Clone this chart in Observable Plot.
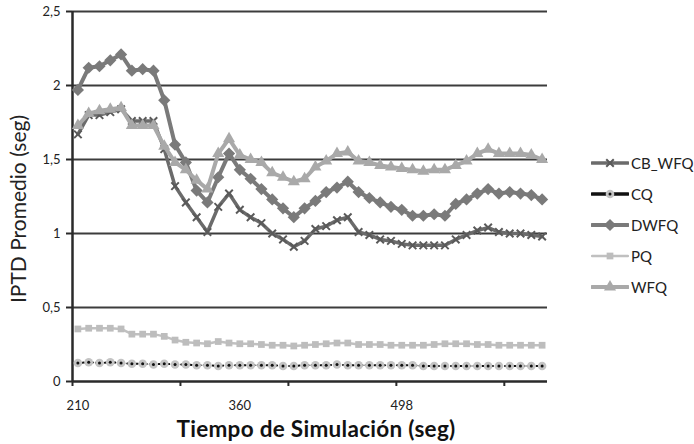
<!DOCTYPE html>
<html><head><meta charset="utf-8">
<script src="https://cdn.jsdelivr.net/npm/d3@7"></script>
<script src="https://cdn.jsdelivr.net/npm/@observablehq/plot@0.6"></script>
<style>
html,body{margin:0;padding:0;background:#fff;}
#wrap{position:relative;width:694px;height:444px;font-family:Lato,sans-serif;overflow:hidden;background:#fff}
#wrap svg.plot{position:absolute;left:0;top:0}
.ytitle{position:absolute;left:17px;top:209px;transform:translate(-50%,-50%) rotate(-90deg);font-size:21px;color:#222;white-space:nowrap}
.xtitle{position:absolute;left:316px;top:428px;transform:translate(-50%,-50%);font-size:22.5px;letter-spacing:0.3px;font-weight:bold;color:#111;white-space:nowrap}
.legend{position:absolute;left:591px;top:147px}
.legend .row{height:31px;display:flex;align-items:center;font-size:15px;color:#222}
.legend svg{display:block;margin-right:2px}
</style></head><body><div id="wrap"></div>
<script>
// Category tick labels (x is the category index)
const xLabelIdx = [0, 15, 30];
const xLabels = ["210", "360", "498"];
const yTicks = [0, 0.5, 1, 1.5, 2, 2.5];
const seriesNames = ["CB_WFQ", "CQ", "DWFQ", "PQ", "WFQ"];

const CB_WFQ = [1.67,1.80,1.80,1.82,1.84,1.76,1.76,1.76,1.57,1.32,
                1.21,1.11,1.01,1.18,1.27,1.16,1.11,1.07,1.00,0.96,
                0.91,0.95,1.03,1.05,1.09,1.11,1.01,0.99,0.96,0.95,
                0.93,0.92,0.92,0.92,0.92,0.96,0.99,1.02,1.04,1.01,
                1.00,1.00,0.99,0.98];
const CQ = [0.125,0.13,0.125,0.13,0.125,0.12,0.12,0.115,0.12,0.115,
            0.115,0.11,0.11,0.105,0.11,0.11,0.11,0.11,0.11,0.105,
            0.105,0.11,0.11,0.11,0.115,0.11,0.11,0.11,0.11,0.11,
            0.11,0.11,0.105,0.105,0.105,0.105,0.105,0.105,0.105,0.105,
            0.105,0.105,0.105,0.105];
const DWFQ = [1.97,2.12,2.13,2.17,2.21,2.10,2.11,2.10,1.90,1.60,
              1.48,1.29,1.21,1.38,1.54,1.43,1.37,1.30,1.23,1.17,
              1.11,1.17,1.22,1.28,1.31,1.35,1.28,1.24,1.21,1.18,
              1.16,1.12,1.12,1.13,1.12,1.20,1.23,1.27,1.30,1.27,
              1.28,1.27,1.26,1.23];
const PQ = [0.355,0.36,0.36,0.36,0.355,0.32,0.32,0.32,0.305,0.28,
            0.265,0.26,0.255,0.27,0.26,0.255,0.255,0.25,0.245,0.245,
            0.24,0.245,0.25,0.255,0.26,0.26,0.25,0.25,0.25,0.245,
            0.245,0.245,0.245,0.25,0.255,0.255,0.255,0.25,0.25,0.245,
            0.245,0.245,0.245,0.245];
const WFQ = [1.73,1.81,1.83,1.84,1.85,1.73,1.73,1.73,1.59,1.48,
             1.43,1.36,1.30,1.54,1.64,1.53,1.50,1.48,1.41,1.38,
             1.35,1.37,1.45,1.49,1.54,1.55,1.49,1.48,1.46,1.45,
             1.44,1.43,1.42,1.43,1.43,1.46,1.49,1.54,1.57,1.54,
             1.54,1.54,1.53,1.50];

const valuesBy = {CB_WFQ, CQ, DWFQ, PQ, WFQ};
const n = CB_WFQ.length;
const xDomain = [-0.5, n - 0.5];
const boundaryTicks = d3.range(0, n, 10).map(i => i - 0.5);

const style = {
  CB_WFQ: {stroke: "#6b6b6b", width: 3.5, symbol: "times", r: 3.5, fill: "none", mstroke: "#5a5a5a", msw: 2},
  CQ:     {stroke: "#111",    width: 2,   symbol: "circle", r: 4.3, fill: "#c4c4c4", mstroke: "none", msw: 0},
  DWFQ:   {stroke: "#7a7a7a", width: 4,   symbol: "diamond2", r: 5.5, fill: "#7a7a7a", mstroke: "none", msw: 0},
  PQ:     {stroke: "#c0c0c0", width: 2.5, symbol: "square", r: 3.8, fill: "#bdbdbd", mstroke: "none", msw: 0},
  WFQ:    {stroke: "#a9a9a9", width: 4,   symbol: "triangle", r: 4.5, fill: "#a9a9a9", mstroke: "none", msw: 0}
};

const rows = s => valuesBy[s].map((v, i) => ({series: s, i, v}));

const marks = [
  Plot.ruleY(yTicks.filter(d => d > 0), {x1: xDomain[0], x2: xDomain[1], stroke: "#3c3c3c", strokeWidth: 2}),
  Plot.ruleY([0], {x1: xDomain[0], x2: xDomain[1], stroke: "#2a2a2a", strokeWidth: 2.5}),
  Plot.ruleX([xDomain[0]], {y1: 0, y2: yTicks[yTicks.length - 1], stroke: "#2a2a2a", strokeWidth: 2.5}),
  Plot.axisY({ticks: yTicks, tickSize: 6, tickPadding: 6, strokeWidth: 2, stroke: "#2a2a2a", label: null,
    tickFormat: d => String(d).replace(".", ","), fontSize: 13, fill: "#222"}),
  Plot.axisX({ticks: boundaryTicks, tickSize: 5, strokeWidth: 2, stroke: "#2a2a2a", label: null, tickFormat: () => ""}),
  Plot.axisX({ticks: xLabelIdx, tickSize: 0, tickPadding: 19, fontSize: 13, fill: "#222", label: null,
    tickFormat: d => xLabels[xLabelIdx.indexOf(d)]})
];

for (const s of seriesNames) {
  const st = style[s];
  const data = rows(s);
  if (s === "CQ") {
    marks.push(Plot.line(data, {x: "i", y: "v", stroke: st.stroke, strokeWidth: st.width, strokeDasharray: "1.5,3"}));
    marks.push(Plot.dot(data, {x: "i", y: "v", r: st.r, fill: st.fill, stroke: "none"}));
    marks.push(Plot.dot(data, {x: "i", y: "v", r: 1.5, fill: "#111", stroke: "none"}));
  } else {
    marks.push(Plot.line(data, {x: "i", y: "v", stroke: st.stroke, strokeWidth: st.width}));
    marks.push(Plot.dot(data, {x: "i", y: "v", symbol: st.symbol, r: st.r, fill: st.fill,
      stroke: st.mstroke, strokeWidth: st.msw}));
  }
}

const chart = Plot.plot({
  width: 694, height: 444,
  marginLeft: 72, marginRight: 147, marginTop: 11, marginBottom: 63,
  x: {type: "linear", domain: xDomain, axis: null, label: null},
  y: {domain: [0, 2.5], axis: null, label: null},
  style: {fontFamily: "Lato, sans-serif", background: "#fff", overflow: "visible"},
  marks
});
chart.classList.add("plot");
const wrap = document.getElementById("wrap");
wrap.appendChild(chart);

const yt = document.createElement("div"); yt.className = "ytitle"; yt.textContent = "IPTD Promedio (seg)"; wrap.appendChild(yt);
const xt = document.createElement("div"); xt.className = "xtitle"; xt.textContent = "Tiempo de Simulación (seg)"; wrap.appendChild(xt);

// Legend
const leg = document.createElement("div"); leg.className = "legend";
const NS = "http://www.w3.org/2000/svg";
function glyph(s) {
  const st = style[s];
  const svg = document.createElementNS(NS, "svg");
  svg.setAttribute("width", 38); svg.setAttribute("height", 14);
  const ln = document.createElementNS(NS, "line");
  ln.setAttribute("x1", 1); ln.setAttribute("x2", 37); ln.setAttribute("y1", 7); ln.setAttribute("y2", 7);
  ln.setAttribute("stroke", st.stroke); ln.setAttribute("stroke-width", s === "CQ" ? 3.5 : st.width);
  ln.setAttribute("stroke-linecap", "round");
  svg.appendChild(ln);
  const sym = {times: d3.symbolTimes, circle: d3.symbolCircle, diamond2: d3.symbolDiamond2, square: d3.symbolSquare, triangle: d3.symbolTriangle}[st.symbol];
  const p = document.createElementNS(NS, "path");
  p.setAttribute("d", d3.symbol(sym, Math.PI * st.r * st.r)());
  p.setAttribute("transform", "translate(19,7)");
  p.setAttribute("fill", st.fill); p.setAttribute("stroke", st.mstroke); p.setAttribute("stroke-width", st.msw);
  svg.appendChild(p);
  if (s === "CQ") {
    const c = document.createElementNS(NS, "circle");
    c.setAttribute("cx", 19); c.setAttribute("cy", 7); c.setAttribute("r", 1.5); c.setAttribute("fill", "#111");
    svg.appendChild(c);
  }
  return svg;
}
for (const s of seriesNames) {
  const row = document.createElement("div"); row.className = "row";
  row.appendChild(glyph(s));
  const t = document.createElement("span"); t.textContent = s; row.appendChild(t);
  leg.appendChild(row);
}
wrap.appendChild(leg);
</script>
</body></html>
